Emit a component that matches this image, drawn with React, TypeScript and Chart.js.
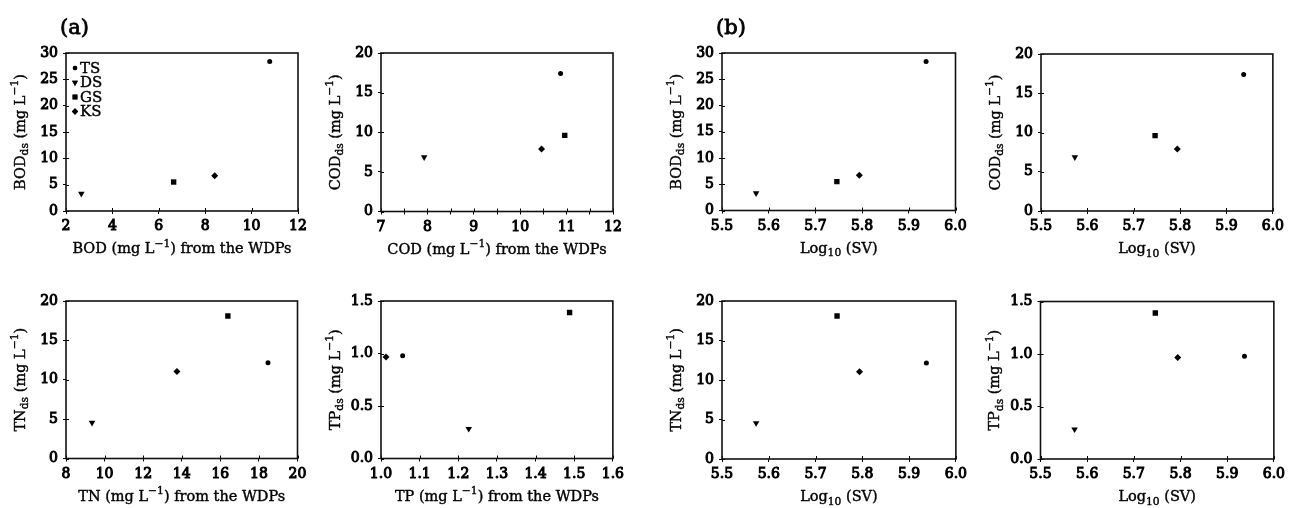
import React, { useEffect, useRef } from 'react';
import { Chart, registerables } from 'chart.js';
import { drawPoint } from 'chart.js/helpers';

Chart.register(...registerables);

// ---------------- data ----------------
const SITES = ['TS', 'DS', 'GS', 'KS'];

const BOD_WDP = [10.78, 2.66, 6.64, 8.41];
const BOD_DS = [28.4, 3.3, 5.5, 6.7];
const COD_WDP = [10.87, 7.93, 10.96, 10.46];
const COD_DS = [17.4, 6.85, 9.6, 7.9];
const TN_WDP = [18.47, 9.35, 16.39, 13.75];
const TN_DS = [12.15, 4.55, 18.1, 11.05];
const TP_WDP = [1.056, 1.227, 1.488, 1.013];
const TP_DS = [0.978, 0.283, 1.39, 0.967];
const LOG_SV = [5.937, 5.573, 5.746, 5.794];

// axis ranges: [min, max, tick step, decimals, label step]
const X_BOD = [2, 12, 2, 0, 2];
const X_COD = [7, 12, 0.5, 0, 1];
const X_TN = [8, 20, 2, 0, 2];
const X_TP = [1.0, 1.6, 0.1, 1, 0.1];
const X_SV = [5.5, 6.0, 0.1, 1, 0.1];
const Y_BOD = [0, 30, 5, 0, 5];
const Y_COD = [0, 20, 5, 0, 5];
const Y_TN = [0, 20, 5, 0, 5];
const Y_TP = [0, 1.5, 0.5, 1, 0.5];

// ---------------- styles ----------------
const POINT_STYLES = ['circle', 'triangle', 'rect', 'rectRot'];
const POINT_RADII = [2.5, 3.8, 3.8, 3.5];
const POINT_ROT = [0, 180, 0, 0];

const TICK_FONT = "'DejaVu Serif', serif";
const TITLE_FONT = "'DejaVu Serif', serif";
const INK = '#000';

type Seg = { t: string; s?: 'sub' | 'sup' };

const xt = (name: string): Seg[] => [
  { t: name + ' (mg L' },
  { t: '\u22121', s: 'sup' },
  { t: ') from the WDPs' },
];
const yt = (name: string): Seg[] => [
  { t: name },
  { t: 'ds', s: 'sub' },
  { t: ' (mg L' },
  { t: '\u22121', s: 'sup' },
  { t: ')' },
];
const SV_TITLE: Seg[] = [{ t: 'Log' }, { t: '10', s: 'sub' }, { t: ' (SV)' }];

type PanelCfg = {
  box: number[]; // plot area left, top, right, bottom (page px)
  xs: number[];
  ys: number[];
  xr: number[];
  yr: number[];
  xTitle: Seg[];
  yTitle: Seg[];
  label?: string;
  legend?: boolean;
};

const PANELS: PanelCfg[] = [
  { box: [66, 53, 298, 211], xs: BOD_WDP, ys: BOD_DS, xr: X_BOD, yr: Y_BOD, xTitle: xt('BOD'), yTitle: yt('BOD'), label: '(a)', legend: true },
  { box: [381, 53, 613, 211.5], xs: COD_WDP, ys: COD_DS, xr: X_COD, yr: Y_COD, xTitle: xt('COD'), yTitle: yt('COD') },
  { box: [66, 301, 297.5, 458.5], xs: TN_WDP, ys: TN_DS, xr: X_TN, yr: Y_TN, xTitle: xt('TN'), yTitle: yt('TN') },
  { box: [381, 301, 613, 458.5], xs: TP_WDP, ys: TP_DS, xr: X_TP, yr: Y_TP, xTitle: xt('TP'), yTitle: yt('TP') },
  { box: [722, 53, 955.5, 210.5], xs: LOG_SV, ys: BOD_DS, xr: X_SV, yr: Y_BOD, xTitle: SV_TITLE, yTitle: yt('BOD'), label: '(b)' },
  { box: [1041, 54, 1273, 211], xs: LOG_SV, ys: COD_DS, xr: X_SV, yr: Y_COD, xTitle: SV_TITLE, yTitle: yt('COD') },
  { box: [722, 301, 956, 459], xs: LOG_SV, ys: TN_DS, xr: X_SV, yr: Y_TN, xTitle: SV_TITLE, yTitle: yt('TN') },
  { box: [1040.5, 301.5, 1274, 459], xs: LOG_SV, ys: TP_DS, xr: X_SV, yr: Y_TP, xTitle: SV_TITLE, yTitle: yt('TP') },
];

const M_LEFT = 64;
const M_RIGHT = 15;
const M_BOTTOM = 48;
const TITLE_SIZE = 14.5;

function drawRich(ctx: CanvasRenderingContext2D, segs: Seg[], x: number, y: number, size: number, rotate: boolean) {
  ctx.save();
  ctx.translate(x, y);
  if (rotate) ctx.rotate(-Math.PI / 2);
  const small = size * 0.74;
  const font = (sz: number) => `${sz}px ${TITLE_FONT}`;
  let total = 0;
  const widths = segs.map((sg) => {
    ctx.font = font(sg.s ? small : size);
    const w = ctx.measureText(sg.t).width;
    total += w;
    return w;
  });
  let cx = -total / 2;
  ctx.textAlign = 'left';
  ctx.textBaseline = 'alphabetic';
  ctx.fillStyle = INK;
  ctx.strokeStyle = INK;
  ctx.lineWidth = 0.4;
  segs.forEach((sg, i) => {
    ctx.font = font(sg.s ? small : size);
    const dy = sg.s === 'sub' ? size * 0.26 : sg.s === 'sup' ? -size * 0.42 : 0;
    ctx.fillText(sg.t, cx, dy);
    ctx.strokeText(sg.t, cx, dy);
    cx += widths[i];
  });
  ctx.restore();
}

function makePlugin(cfg: PanelCfg) {
  return {
    id: 'panelDecor',
    afterDraw(chart: any) {
      const { ctx, chartArea: a } = chart;
      const xs = chart.scales.x;
      const ys = chart.scales.y;
      ctx.save();
      // inner halves of ticks
      ctx.strokeStyle = INK;
      ctx.lineWidth = 1;
      ctx.beginPath();
      xs.ticks.forEach((t: any) => {
        const px = Math.round(xs.getPixelForValue(t.value)) + 0.5;
        ctx.moveTo(px, a.bottom);
        ctx.lineTo(px, a.bottom - 3);
      });
      ys.ticks.forEach((t: any) => {
        const py = Math.round(ys.getPixelForValue(t.value)) + 0.5;
        ctx.moveTo(a.left, py);
        ctx.lineTo(a.left + 3, py);
      });
      ctx.stroke();
      // frame
      ctx.lineWidth = 1.6;
      ctx.strokeStyle = '#111';
      ctx.strokeRect(a.left, a.top, a.right - a.left, a.bottom - a.top);
      // titles
      drawRich(ctx, cfg.xTitle, (a.left + a.right) / 2, a.bottom + 42, TITLE_SIZE, false);
      drawRich(ctx, cfg.yTitle, a.left - 41.5, (a.top + a.bottom) / 2, TITLE_SIZE, true);
      // panel label
      if (cfg.label) {
        ctx.font = `21px ${TICK_FONT}`;
        ctx.fillStyle = INK;
        ctx.strokeStyle = INK;
        ctx.lineWidth = 0.8;
        ctx.textAlign = 'left';
        ctx.textBaseline = 'alphabetic';
        ctx.fillText(cfg.label, a.left - 6, a.top - 19);
        ctx.strokeText(cfg.label, a.left - 6, a.top - 19);
      }
      // legend
      if (cfg.legend) {
        chart.data.datasets.forEach((ds: any, i: number) => {
          const cy = a.top + 15 + i * 14.5;
          ctx.fillStyle = '#000';
          ctx.strokeStyle = '#000';
          drawPoint(ctx, { pointStyle: ds.pointStyle, radius: ds.pointRadius * 0.9, rotation: ds.pointRotation, borderWidth: 0 }, a.left + 9, cy);
          ctx.fill();
          ctx.font = `15px ${TITLE_FONT}`;
          ctx.fillStyle = INK;
          ctx.lineWidth = 0.4;
          ctx.textAlign = 'left';
          ctx.textBaseline = 'middle';
          ctx.fillText(ds.label, a.left + 14, cy + 1);
          ctx.strokeText(ds.label, a.left + 14, cy + 1);
        });
      }
      ctx.restore();
    },
  };
}

function axis(r: number[], isX: boolean, size: number) {
  const [min, max, step, dec, labelStep] = r;
  return {
    type: 'linear' as const,
    position: isX ? ('bottom' as const) : ('left' as const),
    min,
    max,
    afterFit: (s: any) => {
      if (isX) s.height = size;
      else s.width = size;
    },
    ticks: {
      stepSize: step,
      autoSkip: false,
      maxRotation: 0,
      padding: isX ? 4 : 5,
      color: INK,
      textStrokeColor: INK,
      textStrokeWidth: 1,
      font: { family: TICK_FONT, size: 14 },
      callback: (v: any) => {
        const n = Number(v);
        const k = (n - min) / labelStep;
        if (Math.abs(k - Math.round(k)) > 1e-6) return '';
        return n.toFixed(dec);
      },
    },
    grid: { drawOnChartArea: false, drawTicks: true, tickLength: 3, color: INK, lineWidth: 1 },
    border: { display: false },
  };
}

function Panel({ cfg }: { cfg: PanelCfg }) {
  const ref = useRef<HTMLCanvasElement>(null);
  const [l, t, r, b] = cfg.box;
  const mTop = t < 200 ? 50 : 14;
  const left = Math.round(l) - M_LEFT;
  const top = Math.round(t) - mTop;
  const mL = l - left;
  const mT = t - top;
  const width = Math.ceil(r + M_RIGHT) - left;
  const height = Math.ceil(b + M_BOTTOM) - top;
  const mR = width - (r - left);
  const mB = height - (b - top);

  useEffect(() => {
    const canvas = ref.current;
    if (!canvas) return;
    const chart = new Chart(canvas, {
      type: 'scatter',
      data: {
        datasets: SITES.map((s, i) => ({
          label: s,
          data: [{ x: cfg.xs[i], y: cfg.ys[i] }],
          pointStyle: POINT_STYLES[i] as any,
          pointRadius: POINT_RADII[i],
          pointHoverRadius: POINT_RADII[i],
          pointRotation: POINT_ROT[i],
          backgroundColor: '#000',
          borderColor: '#000',
          borderWidth: 0,
        })),
      },
      options: {
        responsive: false,
        animation: false,
        devicePixelRatio: 1,
        events: [],
        layout: { padding: { top: mT, right: mR, left: 0, bottom: 0 } },
        plugins: { legend: { display: false }, tooltip: { enabled: false } },
        scales: {
          x: axis(cfg.xr, true, mB) as any,
          y: axis(cfg.yr, false, mL) as any,
        },
      },
      plugins: [makePlugin(cfg)],
    });
    return () => chart.destroy();
  }, []);

  return (
    <canvas
      ref={ref}
      width={width}
      height={height}
      style={{ position: 'absolute', left, top, width, height }}
    />
  );
}

export default function App() {
  return (
    <div style={{ position: 'absolute', left: 0, top: 0, width: 1290, height: 508, background: '#fff', overflow: 'hidden' }}>
      {PANELS.map((p, i) => (
        <Panel key={i} cfg={p} />
      ))}
    </div>
  );
}
